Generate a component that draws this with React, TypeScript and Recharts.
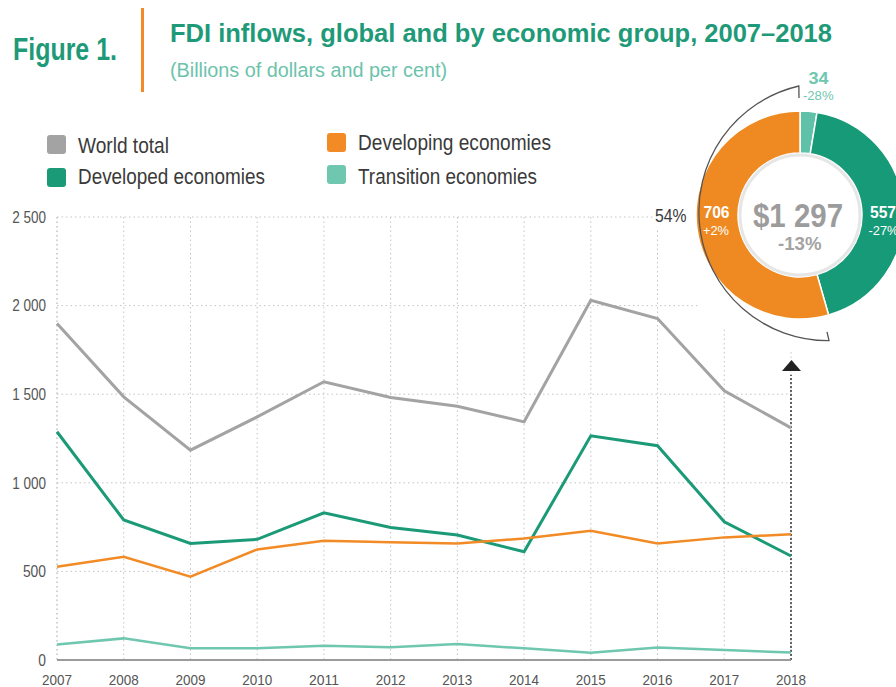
import React from 'react';
import { LineChart, Line, XAxis, YAxis, CartesianGrid, ReferenceLine, PieChart, Pie, Cell } from 'recharts';

// years on the x axis
const years = ['2007', '2008', '2009', '2010', '2011', '2012', '2013', '2014', '2015', '2016', '2017', '2018'];

// FDI inflows, billions of dollars
const worldTotal = [1899, 1485, 1184, 1372, 1570, 1481, 1432, 1344, 2030, 1927, 1519, 1310];
const developed = [1288, 790, 658, 681, 831, 748, 705, 611, 1265, 1209, 780, 587];
const developing = [526, 583, 470, 624, 673, 664, 658, 686, 729, 658, 692, 709];
const transition = [88, 122, 66, 66, 81, 72, 90, 66, 41, 71, 56, 43];

const yTicks = [0, 500, 1000, 1500, 2000, 2500];

// 2018 breakdown for the donut
const donutNames = ['Transition economies', 'Developed economies', 'Developing economies'];
const donutValues = [34, 557, 706];
const donutChanges = ['-28%', '-27%', '+2%'];
const totalLabel = '$1 297';
const totalChange = '-13%';
const developingShare = '54%';

const C = {
  world: '#a3a3a3',
  developed: '#1b9a77',
  developing: '#f28b25',
  transition: '#6fc7af',
  title: '#1f9a78',
  subtitle: '#6cc3ab',
  text: '#3a3a3a',
  tick: '#555',
};

// condensed look: Liberation Sans squeezed with textLength
const FONT = '"Liberation Sans", Arial, sans-serif';

const data = years.map((y, i) => ({
  year: y,
  world: worldTotal[i],
  developed: developed[i],
  developing: developing[i],
  transition: transition[i],
}));

const donutData = donutNames.map((n, i) => ({ name: n, value: donutValues[i] }));
const donutColors = ['#5fc2a8', '#169a77', '#ef8a22'];

const fmt = (v: number) => (v >= 1000 ? `${Math.floor(v / 1000)} ${String(v % 1000).padStart(3, '0')}` : String(v));

const legendItems = [
  { label: 'World total', color: C.world, x: 47, y: 135, w: 91, base: 152.5 },
  { label: 'Developed economies', color: C.developed, x: 47, y: 168, w: 187, base: 184 },
  { label: 'Developing economies', color: C.developing, x: 327, y: 133, w: 193, base: 150 },
  { label: 'Transition economies', color: C.transition, x: 327, y: 165, w: 179, base: 183.5 },
];

// donut geometry
const CX = 800;
const CY = 215;
const BOX = 290;

const arcPt = (deg: number, r: number) => {
  const a = (deg * Math.PI) / 180;
  return [CX + r * Math.cos(a), CY - r * Math.sin(a)];
};

const XTick = (props: any) => {
  const { x, y, payload } = props;
  return (
    <text x={x} y={y + 25} textAnchor="middle" fontSize={15.5} fill={C.tick} fontFamily={FONT} textLength={30} lengthAdjust="spacingAndGlyphs">
      {payload.value}
    </text>
  );
};

const YTick = (props: any) => {
  const { x, y, payload } = props;
  const s = fmt(payload.value);
  const digits = s.replace(/ /g, '').length;
  const len = digits * 7.7 + (s.includes(' ') ? 3 : 0);
  return (
    <text x={x} y={y + 5.8} textAnchor="end" fontSize={16} fill={C.tick} fontFamily={FONT} textLength={len} lengthAdjust="spacingAndGlyphs">
      {s}
    </text>
  );
};

const T = (p: any) => <text fontFamily={FONT} lengthAdjust="spacingAndGlyphs" {...p} />;

export default function App() {
  const br = 129;
  const [sx, sy] = arcPt(90.5, br);
  const [ex, ey] = arcPt(-77, br);
  const [sx2, sy2] = arcPt(90.5, br - 12);
  const [ex2, ey2] = arcPt(-77, br - 9);

  return (
    <div style={{ position: 'absolute', left: 0, top: 0, width: 896, height: 687, overflow: 'hidden', background: '#fff' }}>
      <div style={{ position: 'absolute', left: 0, top: 0 }}>
        <LineChart width={896} height={687} data={data} margin={{ top: 217, right: 105, bottom: 7, left: 7 }}>
          <CartesianGrid stroke="#c4c4c4" strokeDasharray="1.5 3" />
          <XAxis
            dataKey="year"
            tickSize={0}
            tickMargin={0}
            height={20}
            axisLine={{ stroke: '#9b9b9b', strokeWidth: 2 }}
            tick={<XTick />}
            interval={0}
          />
          <YAxis
            domain={[0, 2500]}
            ticks={yTicks}
            width={50}
            tickSize={0}
            tickMargin={11}
            axisLine={false}
            tick={<YTick />}
          />
          <ReferenceLine
            segment={[{ x: '2018', y: 0 }, { x: '2018', y: 1610 }]}
            stroke="#333"
            strokeWidth={1.5}
            strokeDasharray="2 2"
          />
          <Line dataKey="world" stroke={C.world} strokeWidth={3} dot={false} isAnimationActive={false} />
          <Line dataKey="developed" stroke={C.developed} strokeWidth={3} dot={false} isAnimationActive={false} />
          <Line dataKey="developing" stroke={C.developing} strokeWidth={2.5} dot={false} isAnimationActive={false} />
          <Line dataKey="transition" stroke={C.transition} strokeWidth={2.5} dot={false} isAnimationActive={false} />
        </LineChart>
      </div>

      {/* donut with white backdrop */}
      <div style={{ position: 'absolute', left: CX - 137, top: CY - 137, width: 274, height: 274, borderRadius: '50%', background: '#fff' }} />
      <div style={{ position: 'absolute', left: CX - BOX / 2, top: CY - BOX / 2 }}>
        <PieChart width={BOX} height={BOX} margin={{ top: 0, right: 0, bottom: 0, left: 0 }}>
          <Pie
            data={donutData}
            dataKey="value"
            cx={BOX / 2}
            cy={BOX / 2}
            innerRadius={62}
            outerRadius={104}
            startAngle={90}
            endAngle={-270}
            stroke="#fff"
            strokeWidth={1.5}
            isAnimationActive={false}
          >
            {donutData.map((d, i) => (
              <Cell key={d.name} fill={donutColors[i]} />
            ))}
          </Pie>
        </PieChart>
      </div>

      <svg width={896} height={687} style={{ position: 'absolute', left: 0, top: 0, pointerEvents: 'none' }}>
        {/* title block */}
        <T x={13} y={59.5} fontSize={31} fontWeight={700} fill={C.title} textLength={104}>Figure 1.</T>
        <rect x={141} y={8} width={3} height={84} fill={C.developing} />
        <T x={170} y={42} fontSize={26.5} fontWeight={700} fill={C.title} textLength={662}>
          FDI inflows, global and by economic group, 2007–2018
        </T>
        <T x={170} y={76.5} fontSize={20} fill={C.subtitle} textLength={277}>(Billions of dollars and per cent)</T>

        {/* legend */}
        {legendItems.map((it) => (
          <g key={it.label}>
            <rect x={it.x} y={it.y} width={19} height={19} rx={3} fill={it.color} />
            <T x={it.x + 31} y={it.base} fontSize={21.5} fill={C.text} textLength={it.w}>{it.label}</T>
          </g>
        ))}

        <circle cx={CX} cy={CY} r={60} fill="#fff" stroke="#e6e6e6" strokeWidth={3} />
        {/* bracket around developing share */}
        <path
          d={`M ${sx2} ${sy2} L ${sx} ${sy} A ${br} ${br} 0 0 0 ${ex} ${ey} L ${ex2} ${ey2}`}
          fill="none"
          stroke="#555"
          strokeWidth={1.3}
        />
        <rect x={653} y={202} width={36} height={26} fill="#fff" />
        <T x={655} y={221.5} fontSize={19} fill={C.text} textLength={31.5}>{developingShare}</T>

        {/* arrow above 2018 */}
        <polygon points="782,371 801,371 791.5,360" fill="#222" />

        <T x={753} y={226.5} fontSize={34} fontWeight={700} fill="#9c9c9c" textLength={90}>{totalLabel}</T>
        <T x={778} y={250} fontSize={18.5} fontWeight={700} fill="#a3a3a3" textLength={43.5}>{totalChange}</T>

        <T x={703.5} y={217.5} fontSize={16} fontWeight={700} fill="#fff" textLength={26}>{String(donutValues[2])}</T>
        <T x={703} y={235} fontSize={12} fill="#fff" textLength={26}>{donutChanges[2]}</T>

        <T x={870} y={217.5} fontSize={16} fontWeight={700} fill="#fff" textLength={26}>{String(donutValues[1])}</T>
        <T x={868.5} y={235} fontSize={12} fill="#fff" textLength={30}>{donutChanges[1]}</T>

        <T x={808.5} y={83.5} fontSize={16} fontWeight={700} fill={C.transition} textLength={20}>{String(donutValues[0])}</T>
        <T x={803} y={100} fontSize={12} fill={C.transition} textLength={30.5}>{donutChanges[0]}</T>
      </svg>
    </div>
  );
}
